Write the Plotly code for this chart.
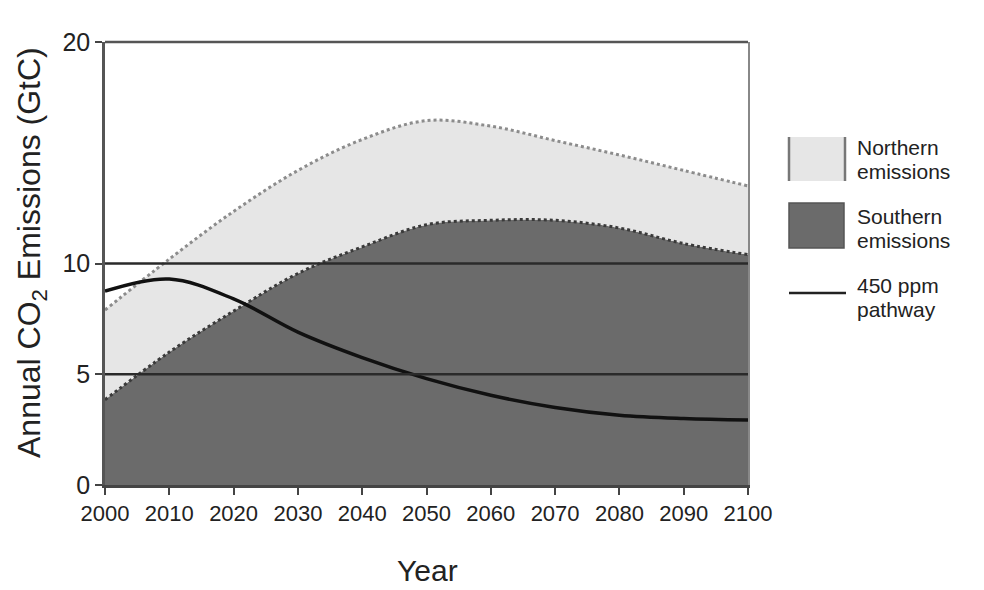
import plotly.graph_objects as go
import numpy as np

years = [2000, 2010, 2020, 2030, 2040, 2050, 2060, 2070, 2080, 2090, 2100]
southern = [3.85, 6.0, 7.85, 9.55, 10.75, 11.75, 11.95, 11.95, 11.6, 10.9, 10.4]
northern = [4.05, 4.2, 4.5, 4.65, 4.85, 4.7, 4.25, 3.6, 3.3, 3.3, 3.1]
pathway = [8.75, 9.3, 8.4, 6.9, 5.75, 4.8, 4.05, 3.5, 3.15, 3.0, 2.93]
ref_levels = [5, 10]
x_ticks = list(range(2000, 2101, 10))
y_ticks = [0, 5, 10, 20]

total = list(np.array(southern) + np.array(northern))

LIGHT = "#e6e6e6"
DARK = "#6b6b6b"
FONT = "Liberation Sans, Arial, sans-serif"

fig = go.Figure()
fig.add_trace(go.Scatter(
    x=years, y=southern, mode="lines", fill="tozeroy", fillcolor=DARK,
    line=dict(color="#3a3a3a", width=3, dash="dot", shape="spline", smoothing=1.0),
    name="Southern emissions", showlegend=False, hoverinfo="skip"))
fig.add_trace(go.Scatter(
    x=years, y=total, mode="lines", fill="tonexty", fillcolor=LIGHT,
    line=dict(color="#8c8c8c", width=3, dash="dot", shape="spline", smoothing=1.0),
    name="Northern emissions", showlegend=False, hoverinfo="skip"))
fig.add_trace(go.Scatter(
    x=years, y=pathway, mode="lines",
    line=dict(color="#111111", width=3.5, shape="spline", smoothing=1.0),
    name="450 ppm pathway", showlegend=False, hoverinfo="skip"))

for lv in ref_levels:
    fig.add_shape(type="line", xref="paper", x0=0, x1=1, yref="y", y0=lv, y1=lv,
                  line=dict(color="#2a2a2a", width=2.5), layer="above")

# top border at y=20
fig.add_shape(type="line", xref="paper", x0=0, x1=1, yref="paper", y0=1, y1=1,
              line=dict(color="#555555", width=2.5), layer="above")

# page coordinates -> paper coordinates of the plot area (105..748, 42..485)
def px2x(px):
    return (px - 105) / 643.0

def py2y(py):
    return (485 - py) / 443.0

fig.add_shape(type="rect", xref="paper", yref="paper",
              x0=px2x(789), x1=px2x(845), y0=py2y(181), y1=py2y(137),
              fillcolor=LIGHT, line=dict(width=0))
for ex in (789, 845):
    fig.add_shape(type="line", xref="paper", yref="paper",
                  x0=px2x(ex), x1=px2x(ex), y0=py2y(181), y1=py2y(137),
                  line=dict(color="#777777", width=2.5))
fig.add_shape(type="rect", xref="paper", yref="paper",
              x0=px2x(789), x1=px2x(844), y0=py2y(248), y1=py2y(203),
              fillcolor=DARK, line=dict(color="#555555", width=1.5))
fig.add_shape(type="line", xref="paper", yref="paper",
              x0=px2x(789), x1=px2x(846), y0=py2y(293), y1=py2y(293),
              line=dict(color="#222222", width=2.5))

leg_texts = [("Northern", 147), ("emissions", 171),
             ("Southern", 216), ("emissions", 240),
             ("450 ppm", 285), ("pathway", 309)]
for txt, py in leg_texts:
    fig.add_annotation(text=txt, xref="paper", yref="paper", x=px2x(855), y=py2y(py),
                       xanchor="left", yanchor="middle", showarrow=False,
                       font=dict(family=FONT, size=21, color="#222222"))

fig.add_annotation(text="Annual CO<sub>2</sub> Emissions (GtC)", xref="paper", yref="paper",
                   x=px2x(31), y=py2y(253), textangle=-90, xanchor="center", yanchor="middle",
                   showarrow=False, font=dict(family=FONT, size=32, color="#222222"))
fig.add_annotation(text="Year", xref="paper", yref="paper",
                   x=px2x(427), y=py2y(570), xanchor="center", yanchor="middle",
                   showarrow=False, font=dict(family=FONT, size=30, color="#222222"))

# page body has an 8px margin: figure 976x582 placed at (8,8)
fig.update_layout(
    width=976, height=582,
    margin=dict(l=97, r=236, t=34, b=105),
    paper_bgcolor="white", plot_bgcolor="white",
    showlegend=False,
    xaxis=dict(range=[2000, 2100], tickvals=x_ticks, ticks="outside", ticklen=7,
               tickwidth=2, tickcolor="#444444", showgrid=False, zeroline=False,
               showline=True, linecolor="#444444", linewidth=2.5,
               tickfont=dict(family=FONT, size=22, color="#222222"),
               layer="above traces"),
    yaxis=dict(range=[0, 20], tickvals=y_ticks, ticks="outside", ticklen=7,
               tickwidth=2, tickcolor="#444444", showgrid=False, zeroline=False,
               showline=True, linecolor="#555555", linewidth=2.5,
               tickfont=dict(family=FONT, size=25, color="#222222"),
               layer="above traces"),
    yaxis2=dict(overlaying="y", side="right", range=[0, 20], showticklabels=False,
                showline=True, linecolor="#888888", linewidth=2, showgrid=False,
                zeroline=False, ticks=""),
)
fig.add_trace(go.Scatter(x=[None], y=[None], yaxis="y2", showlegend=False, hoverinfo="skip"))

fig.write_html("out.html")
